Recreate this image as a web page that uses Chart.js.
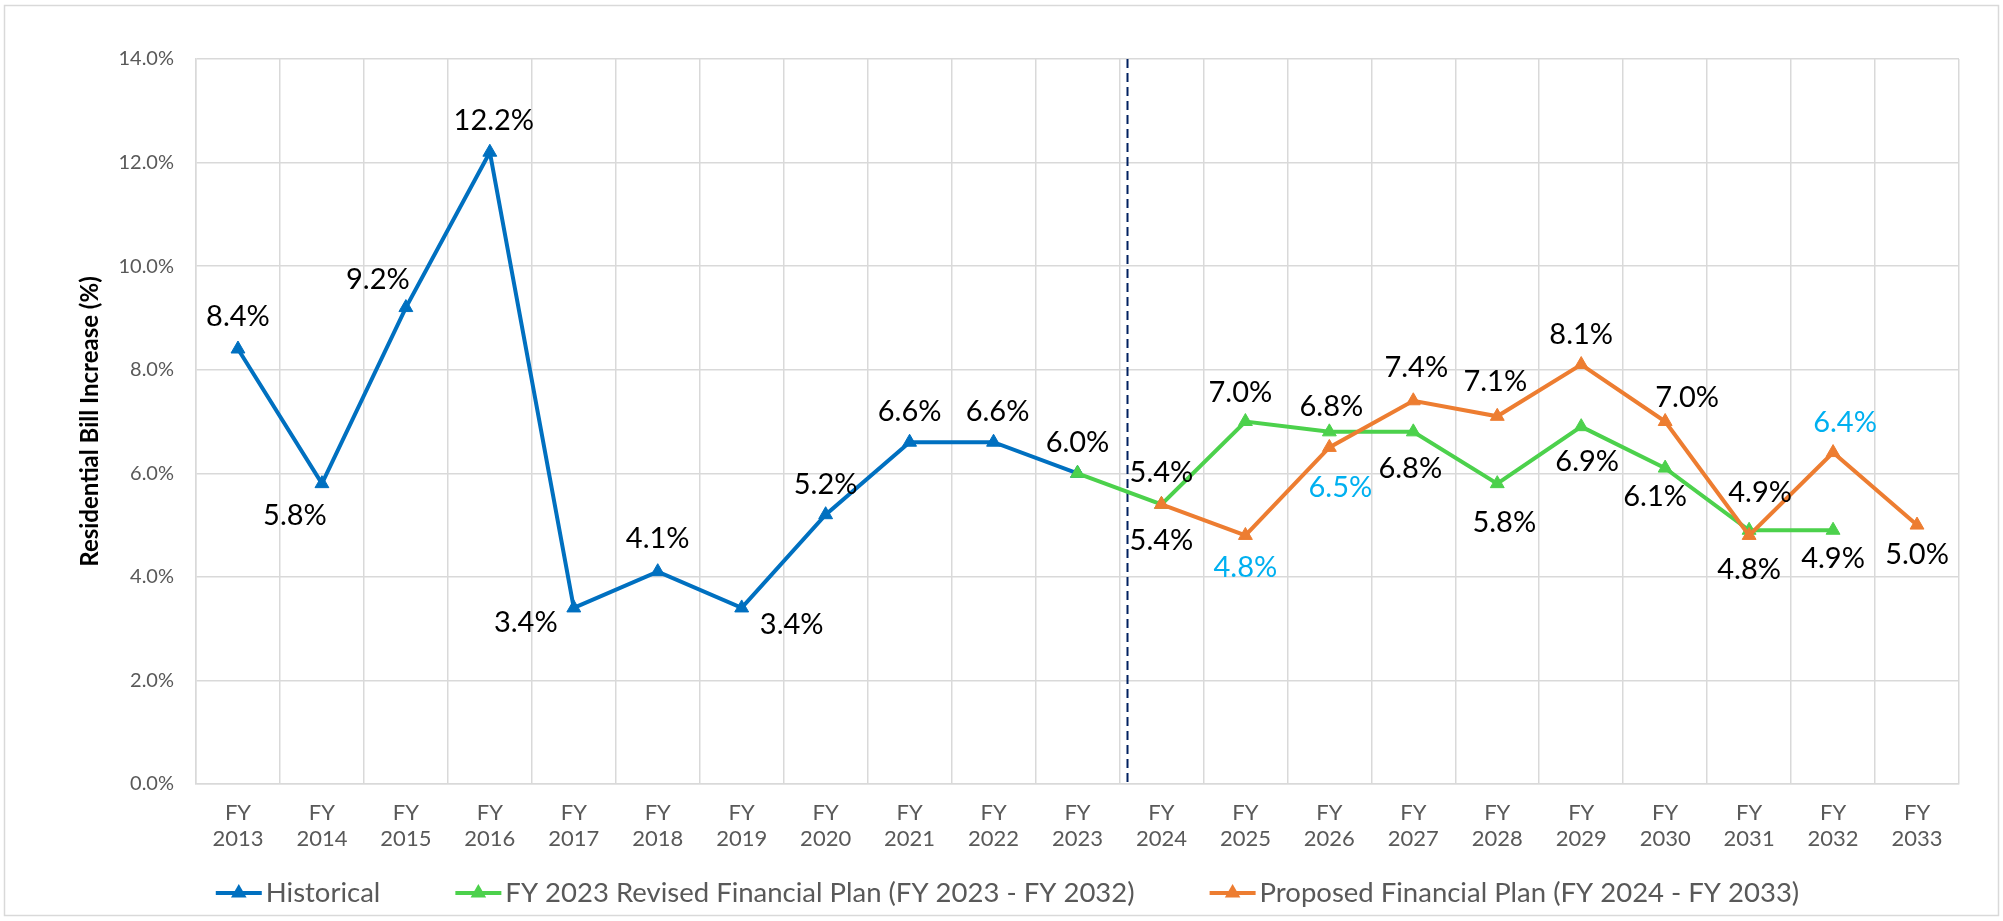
<!DOCTYPE html>
<html>
<head>
<meta charset="utf-8">
<script src="https://cdn.jsdelivr.net/npm/chart.js@4.4.0/dist/chart.umd.min.js"></script>
<style>
    html, body { margin: 0; padding: 0; background: #fff; }
    #chart { display: block; }
</style>
</head>
<body>
<canvas id="chart" width="2003" height="921"></canvas>
<script>
'use strict';

// Data
const years = ['2013', '2014', '2015', '2016', '2017', '2018', '2019', '2020', '2021', '2022', '2023',
               '2024', '2025', '2026', '2027', '2028', '2029', '2030', '2031', '2032', '2033'];
const historical = [8.4, 5.8, 9.2, 12.2, 3.4, 4.1, 3.4, 5.2, 6.6, 6.6, 6.0];   // FY 2013 - FY 2023
const revisedPlan = [6.0, 5.4, 7.0, 6.8, 6.8, 5.8, 6.9, 6.1, 4.9, 4.9];         // FY 2023 - FY 2032
const proposedPlan = [5.4, 4.8, 6.5, 7.4, 7.1, 8.1, 7.0, 4.8, 6.4, 5.0];        // FY 2024 - FY 2033
const yTicks = [0, 2, 4, 6, 8, 10, 12, 14];
const seriesNames = [
    'Historical',
    'FY 2023 Revised Financial Plan (FY 2023 - FY 2032)',
    'Proposed Financial Plan (FY 2024 - FY 2033)',
];

// Styling
const FONT = 'Lato, "Open Sans", sans-serif';
const colors = ['#0070C0', '#4CD14C', '#ED7D31'];
const gridColor = '#D9D9D9';
const tickColor = '#595959';
const cyan = '#00B0F0';

// Where each value label sits relative to its point (px), null = no label
const labelOffsets = [
    [[0, -32], [-27, 32], [-28, -28], [4, -32], [-48, 15], [0, -33], [50, 17], [0, -30], [0, -31], [4, -31], null],
    [[0, -31], [0, -32], [-5, -29], [2, -25], [-3, 37], [7, 39], [6, 35], [-10, 29], [11, -38], [0, 28]],
    [[0, 36], [0, 32], [11, 40], [3, -33], [-2, -35], [0, -30], [22, -24], [0, 34], [12, -30], [0, 30]],
];
const cyanLabels = [[], [], [1, 2, 8]];
const seriesStart = [0, years.indexOf('2023'), years.indexOf('2024')];

function pad(start, values) {
    const out = new Array(years.length).fill(null);
    values.forEach((v, i) => { out[start + i] = v; });
    return out;
}

function lineDataset(i, values, order) {
    return {
        label: seriesNames[i],
        data: pad(seriesStart[i], values),
        borderColor: colors[i],
        backgroundColor: colors[i],
        borderWidth: 4,
        tension: 0,
        spanGaps: false,
        pointStyle: 'triangle',
        pointRadius: 8,
        pointHoverRadius: 8,
        pointBorderWidth: 1,
        pointBackgroundColor: colors[i],
        pointBorderColor: colors[i],
        order,
    };
}

function drawTriangle(ctx, x, y, r, color) {
    ctx.beginPath();
    ctx.moveTo(x, y - r);
    ctx.lineTo(x + r * Math.sin(Math.PI * 2 / 3), y - r * Math.cos(Math.PI * 2 / 3));
    ctx.lineTo(x + r * Math.sin(Math.PI * 4 / 3), y - r * Math.cos(Math.PI * 4 / 3));
    ctx.closePath();
    ctx.fillStyle = color;
    ctx.fill();
}

const chartFrame = {
    id: 'chartFrame',
    beforeDraw(chart) {
        const ctx = chart.ctx;
        ctx.save();
        ctx.fillStyle = '#fff';
        ctx.fillRect(0, 0, chart.width, chart.height);
        ctx.strokeStyle = gridColor;
        ctx.lineWidth = 1.5;
        ctx.strokeRect(4.5, 5.5, chart.width - 9, chart.height - 11);
        ctx.restore();
    }
};

// dashed divider between FY 2023 and FY 2024
const divider = {
    id: 'divider',
    beforeDatasetsDraw(chart) {
        const {ctx, chartArea, scales} = chart;
        const x = Math.round(scales.x.getPixelForValue(10.585)) + 0.5;
        ctx.save();
        ctx.strokeStyle = '#002060';
        ctx.lineWidth = 2;
        ctx.setLineDash([9, 5]);
        ctx.beginPath();
        ctx.moveTo(x, chartArea.top);
        ctx.lineTo(x, chartArea.bottom);
        ctx.stroke();
        ctx.restore();
    }
};

const valueLabels = {
    id: 'valueLabels',
    afterDatasetsDraw(chart) {
        const ctx = chart.ctx;
        ctx.save();
        ctx.font = '29px ' + FONT;
        ctx.textAlign = 'center';
        ctx.textBaseline = 'middle';
        chart.data.datasets.forEach((ds, di) => {
            const meta = chart.getDatasetMeta(di);
            meta.data.forEach((pt, i) => {
                const v = ds.data[i];
                if (v === null || v === undefined) {
                    return;
                }
                const k = i - seriesStart[di];
                const off = labelOffsets[di][k];
                if (!off) {
                    return;
                }
                ctx.fillStyle = cyanLabels[di].includes(k) ? cyan : '#000';
                ctx.fillText(v.toFixed(1) + '%', pt.x + off[0], pt.y + off[1]);
            });
        });
        ctx.restore();
    }
};

const bottomLegend = {
    id: 'bottomLegend',
    afterDraw(chart) {
        const ctx = chart.ctx;
        const y = chart.scales.x.bottom + 23;
        const markW = 46, textGap = 4, itemGap = 75;
        ctx.save();
        ctx.font = '27.5px ' + FONT;
        ctx.textBaseline = 'middle';
        const widths = seriesNames.map(n => ctx.measureText(n).width);
        const total = widths.reduce((a, w) => a + markW + textGap + w, 0) + itemGap * (widths.length - 1);
        let x = chart.width / 2 + 6 - total / 2;
        seriesNames.forEach((name, i) => {
            ctx.strokeStyle = colors[i];
            ctx.lineWidth = 4;
            ctx.setLineDash([]);
            ctx.beginPath();
            ctx.moveTo(x, y);
            ctx.lineTo(x + markW, y);
            ctx.stroke();
            drawTriangle(ctx, x + markW / 2, y, 9, colors[i]);
            ctx.fillStyle = tickColor;
            ctx.textAlign = 'left';
            ctx.fillText(name, x + markW + textGap, y);
            x += markW + textGap + widths[i] + itemGap;
        });
        ctx.restore();
    }
};

const chart = new Chart(document.getElementById('chart').getContext('2d'), {
    type: 'line',
    data: {
        labels: years.map(y => ['FY', y]),
        datasets: [
            lineDataset(0, historical, 3),
            lineDataset(1, revisedPlan, 2),
            lineDataset(2, proposedPlan, 1),
        ]
    },
    options: {
        responsive: false,
        animation: false,
        devicePixelRatio: 1,
        layout: {padding: {left: 72, right: 44, top: 59, bottom: 51}},
        plugins: {
            legend: {display: false},
            tooltip: {enabled: false},
        },
        scales: {
            x: {
                offset: true,
                grid: {color: gridColor, lineWidth: 1.5, drawTicks: false, offset: true},
                border: {color: gridColor, width: 1.5},
                ticks: {
                    color: tickColor,
                    font: {family: FONT, size: 22, lineHeight: 1.22},
                    padding: 15,
                    maxRotation: 0,
                    autoSkip: false,
                },
                afterFit(scale) { scale.height = 86; },
            },
            y: {
                min: yTicks[0],
                max: yTicks[yTicks.length - 1],
                afterBuildTicks(scale) { scale.ticks = yTicks.map(v => ({value: v})); },
                grid: {color: gridColor, lineWidth: 1.5, drawTicks: false},
                border: {color: gridColor, width: 1.5},
                ticks: {
                    color: tickColor,
                    font: {family: FONT, size: 20},
                    padding: 22,
                    callback: v => v.toFixed(1) + '%',
                },
                title: {
                    display: true,
                    text: 'Residential Bill Increase (%)',
                    color: '#000',
                    font: {family: FONT, size: 24, weight: 'bold'},
                    padding: {top: 4, bottom: 0},
                },
                afterFit(scale) { scale.width = 124; },
            }
        }
    },
    plugins: [chartFrame, divider, valueLabels, bottomLegend],
});
</script>
</body>
</html>
